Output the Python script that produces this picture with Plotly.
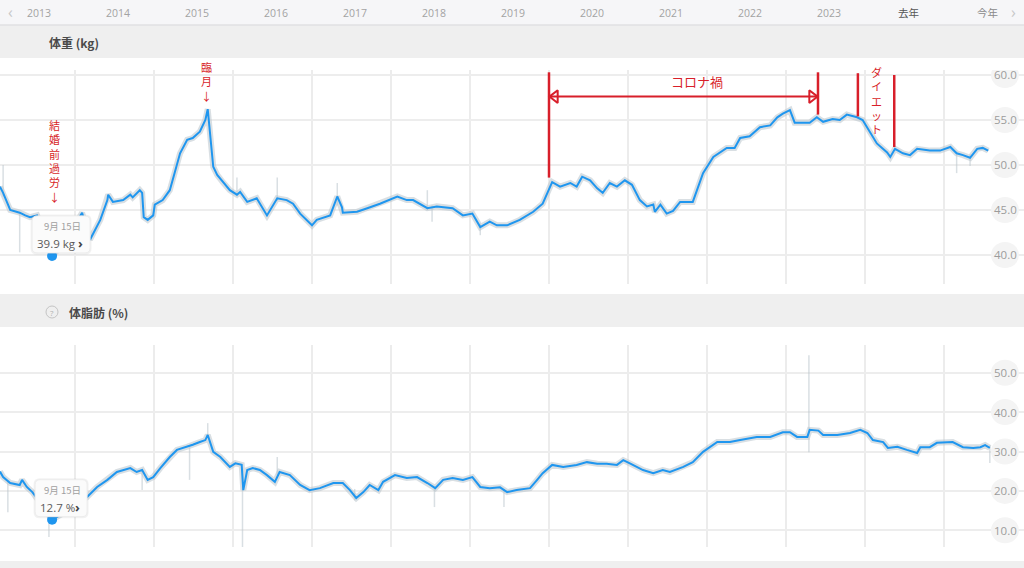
import plotly.graph_objects as go

W, H = 1024, 568

# ---------------- data ----------------
weight_years = [
    2013.05, 2013.09, 2013.18, 2013.30, 2013.37, 2013.43, 2013.52, 2013.60, 2013.71, 2013.85,
    2014.03, 2014.09, 2014.14, 2014.19, 2014.32, 2014.41, 2014.42, 2014.48, 2014.61, 2014.70,
    2014.73, 2014.82, 2014.85, 2014.87, 2014.92, 2014.99, 2015.01, 2015.11, 2015.20, 2015.33,
    2015.42, 2015.49, 2015.58, 2015.65, 2015.68, 2015.75, 2015.80, 2015.87, 2015.96, 2016.05,
    2016.09, 2016.18, 2016.30, 2016.43, 2016.56, 2016.68, 2016.76, 2016.85, 2017.00, 2017.06,
    2017.23, 2017.32, 2017.38, 2017.39, 2017.57, 2017.70, 2017.86, 2018.08, 2018.20, 2018.28,
    2018.46, 2018.58, 2018.78, 2018.91, 2019.03, 2019.13, 2019.25, 2019.34, 2019.47, 2019.63,
    2019.80, 2019.92, 2020.04, 2020.14, 2020.27, 2020.35, 2020.42, 2020.52, 2020.61, 2020.68,
    2020.77, 2020.86, 2020.96, 2021.05, 2021.15, 2021.24, 2021.32, 2021.34, 2021.41, 2021.49,
    2021.57, 2021.66, 2021.75, 2021.82, 2021.95, 2022.08, 2022.25, 2022.35, 2022.42, 2022.54,
    2022.67, 2022.80, 2022.89, 2022.96, 2023.05, 2023.11, 2023.22, 2023.30, 2023.39, 2023.47,
    2023.59, 2023.68, 2023.77, 2023.90, 2023.97, 2024.06, 2024.15, 2024.28, 2024.32, 2024.38,
    2024.48, 2024.57, 2024.66, 2024.82, 2024.95, 2025.08, 2025.16, 2025.24, 2025.33, 2025.42,
    2025.49, 2025.56,
]
weight_kg = [
    47.6, 46.9, 45.0, 44.7, 44.4, 44.2, 44.4, 42.5, 39.9, 41.2,
    43.8, 44.7, 43.0, 41.7, 43.9, 46.1, 46.7, 45.9, 46.1, 46.7,
    46.4, 47.2, 46.9, 44.2, 43.9, 44.4, 45.6, 46.1, 47.2, 51.3,
    52.8, 53.0, 53.7, 55.0, 56.2, 49.8, 48.9, 48.1, 47.2, 46.7,
    47.0, 45.9, 46.3, 44.4, 46.3, 46.1, 45.7, 44.6, 43.3, 43.9,
    44.4, 46.5, 45.3, 44.7, 44.8, 45.2, 45.7, 46.5, 46.1, 46.1,
    45.2, 45.4, 45.2, 44.4, 44.6, 43.1, 43.7, 43.3, 43.3, 43.9,
    44.8, 45.7, 48.1, 47.6, 48.0, 47.6, 48.7, 48.3, 47.4, 46.9,
    48.0, 47.6, 48.3, 47.8, 46.1, 45.4, 45.6, 44.8, 45.6, 44.6,
    44.9, 45.9, 45.9, 45.9, 49.1, 50.9, 51.9, 51.9, 53.0, 53.2,
    54.2, 54.4, 55.3, 55.7, 56.1, 54.7, 54.7, 54.7, 55.3, 54.8,
    55.1, 55.0, 55.6, 55.3, 55.0, 53.7, 52.4, 51.4, 50.9, 51.8,
    51.3, 51.1, 51.8, 51.6, 51.6, 52.0, 51.3, 51.1, 50.8, 51.8,
    51.9, 51.6,
]

fat_years = [
    2013.05, 2013.09, 2013.18, 2013.30, 2013.33, 2013.39, 2013.46, 2013.58, 2013.71, 2013.87,
    2014.06, 2014.15, 2014.28, 2014.41, 2014.53, 2014.61, 2014.70, 2014.78, 2014.85, 2014.92,
    2014.99, 2015.08, 2015.20, 2015.29, 2015.42, 2015.49, 2015.58, 2015.65, 2015.68, 2015.75,
    2015.84, 2015.96, 2016.03, 2016.11, 2016.13, 2016.18, 2016.25, 2016.34, 2016.43, 2016.53,
    2016.59, 2016.72, 2016.85, 2016.97, 2017.10, 2017.27, 2017.39, 2017.48, 2017.56, 2017.65,
    2017.73, 2017.84, 2017.90, 2018.05, 2018.20, 2018.33, 2018.46, 2018.56, 2018.66, 2018.78,
    2018.91, 2019.03, 2019.13, 2019.25, 2019.38, 2019.47, 2019.59, 2019.76, 2019.85, 2019.92,
    2020.04, 2020.18, 2020.35, 2020.48, 2020.61, 2020.73, 2020.86, 2020.94, 2021.03, 2021.19,
    2021.32, 2021.44, 2021.53, 2021.66, 2021.70, 2021.82, 2021.95, 2022.13, 2022.29, 2022.42,
    2022.54, 2022.63, 2022.80, 2022.96, 2023.05, 2023.14, 2023.27, 2023.30, 2023.41, 2023.47,
    2023.65, 2023.81, 2023.94, 2024.03, 2024.10, 2024.23, 2024.29, 2024.41, 2024.53, 2024.66,
    2024.70, 2024.82, 2024.91, 2025.04, 2025.11, 2025.24, 2025.37, 2025.46, 2025.52, 2025.58,
]
fat_pct = [
    24.9, 23.5, 22.0, 21.5, 22.8, 21.0, 19.7, 16.5, 12.7, 14.5,
    17.0, 18.4, 21.0, 22.8, 24.8, 25.3, 25.8, 24.8, 25.3, 22.8,
    23.5, 25.8, 28.6, 30.4, 31.2, 31.7, 32.4, 32.9, 34.2, 29.9,
    28.6, 26.1, 27.0, 26.6, 20.2, 25.3, 25.8, 25.3, 24.0, 22.3,
    24.8, 24.0, 21.5, 20.2, 20.7, 22.0, 22.0, 20.2, 18.2, 19.7,
    21.5, 20.2, 22.3, 24.0, 23.3, 23.5, 22.0, 20.7, 22.8, 23.3,
    22.8, 23.5, 21.0, 20.7, 20.9, 19.7, 20.2, 20.7, 22.8, 24.5,
    26.6, 26.1, 26.6, 27.3, 26.9, 26.9, 26.6, 27.8, 26.9, 25.3,
    24.5, 25.3, 24.8, 25.8, 26.1, 27.3, 29.9, 32.4, 32.4, 32.9,
    33.4, 33.7, 33.7, 34.9, 34.9, 33.7, 33.7, 35.5, 35.3, 34.2,
    34.2, 34.7, 35.5, 34.7, 32.9, 32.4, 30.9, 31.2, 30.4, 29.6,
    31.1, 31.1, 32.2, 32.4, 32.4, 31.1, 30.9, 31.1, 31.6, 30.9,
]

# raw-measurement outliers (year, low, high)
weight_spike_years = [2013.09, 2013.30, 2016.05, 2016.56, 2017.32, 2018.46, 2018.52, 2019.13, 2025.16, 2025.33]
weight_spike_lo = [46.5, 40.3, 46.5, 46.0, 45.5, 45.0, 43.7, 42.2, 49.1, 49.9]
weight_spike_hi = [50.0, 44.7, 48.6, 48.6, 48.0, 47.2, 45.5, 43.5, 51.5, 51.2]

fat_spike_years = [2013.15, 2013.67, 2014.85, 2015.45, 2015.68, 2016.12, 2016.56, 2017.54, 2018.55, 2019.43, 2023.29, 2025.58]
fat_spike_lo = [14.6, 8.3, 20.2, 22.8, 34.0, 5.7, 24.0, 17.6, 15.9, 15.9, 29.8, 27.1]
fat_spike_hi = [22.5, 14.0, 25.5, 31.5, 37.2, 26.0, 28.6, 20.5, 21.0, 20.5, 54.4, 31.5]

year_labels = ["2013", "2014", "2015", "2016", "2017", "2018", "2019",
               "2020", "2021", "2022", "2023", "去年", "今年"]
year_label_pos = [2013, 2014, 2015, 2016, 2017, 2018, 2019, 2020, 2021, 2022, 2023, 2024, 2025]

weight_ticks = [40, 45, 50, 55, 60]
fat_ticks = [10, 20, 30, 40, 50]

selected_day = 2013.71
selected_day_label = "9月 15日"
selected_weight = 39.9
selected_fat = 12.7

covid_start, covid_end = 2020.0, 2023.405
diet_start, diet_end = 2023.91, 2024.37
event_years = [covid_start, covid_end, diet_start, diet_end]
event_line_bottom = [48.6, 55.6, 55.4, 52.0]
event_line_top = [60.3, 60.3, 60.2, 60.0]
covid_arrow_kg = 57.6

# ---------------- style ----------------
BLUE = "#1f96ef"
GREY_BAND = "rgba(185,196,204,0.55)"
RED = "#d81f2a"
GRID = "#ededed"
NUM_FONT = "Open Sans, Noto Sans CJK JP"
JP_FONT = "Noto Sans CJK JP"


def py(p):
    return 1 - p / H


def px(p):
    return p / W


X_RANGE = [2014 - 75 / 79, 2014 + (1024 - 75) / 79]
TOP_DOM = [py(284), py(70)]
BOT_DOM = [py(547), py(345)]
TOP_RANGE = [60 - (284 - 75) / 9, 60 + (75 - 70) / 9]
BOT_RANGE = [50 - (547 - 372.7) / 3.94, 50 + (372.7 - 345) / 3.94]


def spikes(xs, lo, hi):
    sx, sy = [], []
    for x, a, b in zip(xs, lo, hi):
        sx += [x, x, None]
        sy += [a, b, None]
    return sx, sy


fig = go.Figure()

# --- weight panel ---
sx, sy = spikes(weight_spike_years, weight_spike_lo, weight_spike_hi)
fig.add_trace(go.Scatter(x=sx, y=sy, mode="lines", line=dict(color=GREY_BAND, width=1.5),
                         xaxis="x", yaxis="y", hoverinfo="skip"))
fig.add_trace(go.Scatter(x=weight_years, y=weight_kg, mode="lines",
                         line=dict(color=GREY_BAND, width=6), xaxis="x", yaxis="y", hoverinfo="skip"))
fig.add_trace(go.Scatter(x=weight_years, y=weight_kg, mode="lines",
                         line=dict(color=BLUE, width=2), xaxis="x", yaxis="y"))
fig.add_trace(go.Scatter(x=[selected_day], y=[selected_weight], mode="markers",
                         marker=dict(color=BLUE, size=10), xaxis="x", yaxis="y"))
# covid arrow heads
fig.add_trace(go.Scatter(x=[covid_start + 0.075, covid_end - 0.075], y=[covid_arrow_kg, covid_arrow_kg],
                         mode="markers",
                         marker=dict(symbol=["triangle-left-open", "triangle-right-open"], size=11,
                                     color=RED, line=dict(width=2, color=RED)),
                         xaxis="x", yaxis="y", hoverinfo="skip"))

# --- body fat panel ---
sx, sy = spikes(fat_spike_years, fat_spike_lo, fat_spike_hi)
fig.add_trace(go.Scatter(x=sx, y=sy, mode="lines", line=dict(color=GREY_BAND, width=1.5),
                         xaxis="x2", yaxis="y2", hoverinfo="skip"))
fig.add_trace(go.Scatter(x=fat_years, y=fat_pct, mode="lines",
                         line=dict(color=GREY_BAND, width=6), xaxis="x2", yaxis="y2", hoverinfo="skip"))
fig.add_trace(go.Scatter(x=fat_years, y=fat_pct, mode="lines",
                         line=dict(color=BLUE, width=2), xaxis="x2", yaxis="y2"))
fig.add_trace(go.Scatter(x=[selected_day], y=[selected_fat], mode="markers",
                         marker=dict(color=BLUE, size=10), xaxis="x2", yaxis="y2"))

shapes = []
annotations = []


def paper_text(text, x, y, size, color, family=NUM_FONT, xanchor="center"):
    annotations.append(dict(text=text, xref="paper", yref="paper", x=x, y=y,
                            xanchor=xanchor, yanchor="middle", showarrow=False,
                            font=dict(size=size, color=color, family=family)))


# background bands
shapes.append(dict(type="rect", xref="paper", yref="paper", x0=0, x1=1, y0=py(25), y1=1,
                   fillcolor="#f6f6f8", line=dict(width=0), layer="below"))
shapes.append(dict(type="rect", xref="paper", yref="paper", x0=0, x1=1, y0=py(58), y1=py(25),
                   fillcolor="#efefef", line=dict(width=0), layer="below"))
shapes.append(dict(type="line", xref="paper", yref="paper", x0=0, x1=1, y0=py(25), y1=py(25),
                   line=dict(color="#e0e0e3", width=1.5), layer="below"))
shapes.append(dict(type="rect", xref="paper", yref="paper", x0=0, x1=1, y0=py(327), y1=py(294),
                   fillcolor="#efefef", line=dict(width=0), layer="below"))
shapes.append(dict(type="rect", xref="paper", yref="paper", x0=0, x1=1, y0=0, y1=py(561),
                   fillcolor="#efefef", line=dict(width=0), layer="below"))
# "?" icon
shapes.append(dict(type="circle", xref="paper", yref="paper", xsizemode="pixel", ysizemode="pixel",
                   xanchor=px(52), yanchor=py(312), x0=-6, x1=6, y0=-6, y1=6,
                   line=dict(color="#c4c4c4", width=1), fillcolor="rgba(0,0,0,0)"))
paper_text("?", px(52), py(312), 8, "#b0b0b0")

# header / nav text
for lab, yr in zip(year_labels, year_label_pos):
    col = "#555555" if lab == "去年" else ("#8a8a8a" if lab == "今年" else "#a3a3a3")
    annotations.append(dict(text=lab, xref="x", yref="paper", x=yr + 0.5, y=py(12.5), xshift=3.5,
                            xanchor="center", yanchor="middle",
                            showarrow=False, font=dict(size=10.5, color=col, family=NUM_FONT)))
paper_text("‹", px(10), py(12), 16, "#c8c8c8")
paper_text("›", px(1013), py(12), 16, "#c8c8c8")
paper_text("<b>体重 (kg)</b>", px(47), py(43), 12, "#4a4a4a", JP_FONT, "left")
paper_text("<b>体脂肪 (%)</b>", px(67), py(312), 12, "#4a4a4a", JP_FONT, "left")

# right tick labels with round bubbles
for yref, ticks in (("y", weight_ticks), ("y2", fat_ticks)):
    for t in ticks:
        shapes.append(dict(type="circle", xref="paper", yref=yref, xsizemode="pixel", ysizemode="pixel",
                           xanchor=px(1005), yanchor=t, x0=-14, x1=14, y0=-13, y1=13,
                           fillcolor="#f4f4f4", line=dict(width=0), layer="above"))
        annotations.append(dict(text=f"{t:.1f}", xref="paper", yref=yref, x=px(1005), y=t,
                                xanchor="center", yanchor="middle",
                                showarrow=False, font=dict(size=11.5, color="#9c9c9c", family=NUM_FONT)))


# tooltips
def rounded(x0, x1, y0, y1, r):
    return (f"M {x0 + r} {y0} L {x1 - r} {y0} Q {x1} {y0} {x1} {y0 + r} "
            f"L {x1} {y1 - r} Q {x1} {y1} {x1 - r} {y1} L {x0 + r} {y1} "
            f"Q {x0} {y1} {x0} {y1 - r} L {x0} {y0 + r} Q {x0} {y0} {x0 + r} {y0} Z")


for xr, yr, val, unit, left, right in (("x", "y", selected_weight, "kg", -20, 38),
                                       ("x2", "y2", selected_fat, "%", -17, 35)):
    shapes.append(dict(type="path", xref=xr, yref=yr, xsizemode="pixel", ysizemode="pixel",
                       xanchor=selected_day, yanchor=val,
                       path=rounded(left - 1.5, right + 1.5, 1.5, 41.5, 6),
                       fillcolor="rgba(0,0,0,0.05)", line=dict(width=0), layer="above"))
    shapes.append(dict(type="path", xref=xr, yref=yr, xsizemode="pixel", ysizemode="pixel",
                       xanchor=selected_day, yanchor=val,
                       path=rounded(left, right, 3, 40, 5),
                       fillcolor="#fbfbfb", line=dict(color="#ececec", width=1), layer="above"))
    annotations.append(dict(text=selected_day_label, xref=xr, yref=yr, x=selected_day, y=val,
                            xshift=(left + right) / 2 + 1, yshift=30, showarrow=False,
                            font=dict(size=9.5, color="#a0a0a0", family=JP_FONT)))
    annotations.append(dict(text=f"{val:.1f} {unit}", xref=xr, yref=yr, x=selected_day, y=val,
                            xanchor="left", xshift=left + 3, yshift=12, showarrow=False,
                            font=dict(size=11.5, color="#5a5a5a", family=NUM_FONT)))
    annotations.append(dict(text="<b>›</b>", xref=xr, yref=yr, x=selected_day, y=val,
                            xshift=right - 10, yshift=13, showarrow=False,
                            font=dict(size=13, color="#444444", family=NUM_FONT)))

# red event markers
for yr_, lo, hi in zip(event_years, event_line_bottom, event_line_top):
    shapes.append(dict(type="line", xref="x", yref="y", x0=yr_, x1=yr_, y0=lo, y1=hi,
                       line=dict(color=RED, width=2.5), layer="above"))
shapes.append(dict(type="line", xref="x", yref="y", x0=covid_start, x1=covid_end,
                   y0=covid_arrow_kg, y1=covid_arrow_kg, line=dict(color=RED, width=2), layer="above"))


def vertical_text(text, x, y_mid, size):
    annotations.append(dict(text="<br>".join(text), xref="x", yref="y", x=x, y=y_mid,
                            yanchor="middle", showarrow=False, align="center",
                            font=dict(size=size, color=RED, family=JP_FONT)))


vertical_text("結婚前過労↓", 2013.74, 50.44, 11)
vertical_text("臨月↓", 2015.67, 59.33, 11)
vertical_text("ダイエット", 2024.15, 57.17, 11)
annotations.append(dict(text="コロナ禍", xref="x", yref="y", x=2021.87, y=59.33, showarrow=False,
                        font=dict(size=13, color=RED, family=JP_FONT)))

axis_common = dict(range=X_RANGE, tick0=2014, dtick=1, showgrid=True, gridcolor="#ececec", gridwidth=1.5,
                   showticklabels=False, zeroline=False, showline=False, ticks="", fixedrange=True)

fig.update_layout(
    width=W, height=H,
    margin=dict(l=0, r=0, t=0, b=0),
    paper_bgcolor="white", plot_bgcolor="rgba(0,0,0,0)",
    showlegend=False,
    font=dict(family=NUM_FONT),
    xaxis=dict(domain=[0, 1], anchor="y", **axis_common),
    xaxis2=dict(domain=[0, 1], anchor="y2", **axis_common),
    yaxis=dict(domain=TOP_DOM, range=TOP_RANGE, anchor="x", tickvals=weight_ticks, showgrid=True,
               gridcolor=GRID, gridwidth=1.5, showticklabels=False, zeroline=False, ticks=""),
    yaxis2=dict(domain=BOT_DOM, range=BOT_RANGE, anchor="x2", tickvals=fat_ticks, showgrid=True,
                gridcolor=GRID, gridwidth=1.5, showticklabels=False, zeroline=False, ticks=""),
    shapes=shapes,
    annotations=annotations,
)

fig.write_html("out.html", config={"displayModeBar": False},
               post_script="document.body.style.margin='0';document.body.style.overflow='hidden';")
